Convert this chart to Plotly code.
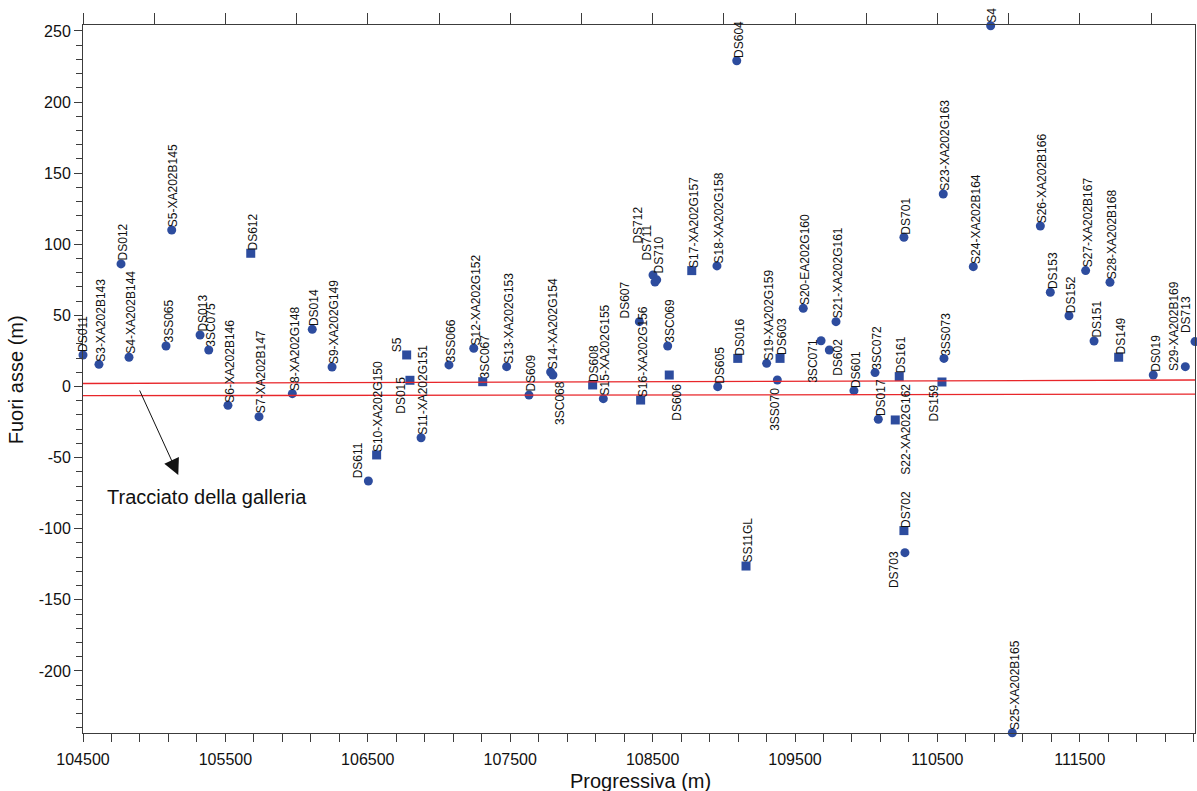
import plotly.graph_objects as go

# ---------------- data ----------------
names = ["DS011", "S3-XA202B143", "DS012", "S4-XA202B144", "3SS065", "S5-XA202B145",
         "DS013", "3SC075", "S6-XA202B146", "DS612", "S7-XA202B147", "S8-XA202G148",
         "DS014", "S9-XA202G149", "DS611", "S10-XA202G150", "S5", "DS015",
         "S11-XA202G151", "3SS066", "S12-XA202G152", "3SC067", "S13-XA202G153", "DS609",
         "S14-XA202G154", "3SC068", "DS608", "S15-XA202G155", "DS607", "S16-XA202G156",
         "DS712", "DS711", "DS710", "3SC069", "DS606", "S17-XA202G157",
         "S18-XA202G158", "DS605", "DS604", "DS016", "SS11GL", "S19-XA202G159",
         "3SS070", "DS603", "S20-EA202G160", "3SC071", "DS602", "S21-XA202G161",
         "DS601", "3SC072", "DS017", "S22-XA202G162", "DS161", "DS702",
         "DS703", "DS701", "S23-XA202G163", "3SS073", "DS159", "S24-XA202B164",
         "S4", "S25-XA202B165", "S26-XA202B166", "DS153", "DS152", "S27-XA202B167",
         "DS151", "S28-XA202B168", "DS149", "DS019", "S29-XA202B169", "DS713"]

progressiva = [104500, 104612, 104767, 104823, 105083, 105123,
               105322, 105383, 105518, 105678, 105736, 105970,
               106110, 106249, 106504, 106562, 106773, 106796,
               106874, 107070, 107244, 107307, 107475, 107632,
               107784, 107800, 108079, 108154, 108407, 108416,
               108503, 108529, 108517, 108606, 108617, 108775,
               108952, 108957, 109091, 109098, 109156, 109301,
               109376, 109395, 109558, 109683, 109741, 109788,
               109914, 110062, 110085, 110204, 110232, 110265,
               110272, 110265, 110541, 110546, 110532, 110752,
               110874, 111026, 111223, 111293, 111424, 111541,
               111600, 111712, 111773, 112016, 112241, 112309]

fuori_asse = [22.2, 15.6, 86.2, 20.6, 28.5, 110.1,
              36.2, 25.7, -13.2, 93.7, -21.2, -5.0,
              40.2, 13.7, -66.4, -48.1, 22.2, 4.4,
              -36.0, 15.2, 26.9, 3.4, 14.0, -6.0,
              10.2, 8.1, 1.1, -8.5, 45.6, -9.5,
              78.4, 75.0, 73.5, 28.5, 8.1, 81.5,
              84.8, -0.1, 229.1, 19.8, -126.2, 16.3,
              4.6, 19.8, 55.0, 32.2, 25.7, 45.6,
              -2.9, 9.8, -23.0, -23.5, 7.0, -101.3,
              -116.8, 105.0, 135.4, 19.8, 3.2, 84.3,
              253.7, -243.4, 112.9, 66.3, 49.8, 81.5,
              32.0, 73.3, 20.6, 8.1, 14.0, 31.6]

# tunnel alignment (two red edges), values at start and end of the section
galleria_x = [104500, 112309]
galleria_sup = [2.15, 4.6]
galleria_inf = [-6.45, -5.4]

x_range = [104500, 112309]
y_range = [-243.6, 254.2]

y_tickvals = [-200, -150, -100, -50, 0, 50, 100, 150, 200, 250]
y_ticktext = ["-200", "-150", "-100", "-50", "0", "50", "100", "150", "200", "250"]

# ---------------- styles ----------------
square_set = {"DS612", "S5", "DS015", "3SC067", "DS606", "S16-XA202G156", "S17-XA202G157",
              "DS016", "DS702", "S22-XA202G162", "DS149", "DS159", "DS161", "SS11GL",
              "DS608", "S10-XA202G150", "DS603"}
symbols = ["square" if n in square_set else "circle" for n in names]

# label placement: (side, dx px, dy px); side 'a' = label above point, 'b' = label below
label_style = {
    "DS011": ("a", 0, 2), "DS611": ("a", -10, 2), "S5": ("a", -9, 2),
    "DS015": ("b", -9, 5), "3SC068": ("b", 7, -5), "DS607": ("a", -14, 2),
    "DS712": ("a", -16, 30), "DS711": ("a", -10, 18), "DS710": ("a", 3, 7),
    "DS606": ("b", 7, -8), "3SS070": ("b", -3, -7), "3SC071": ("b", -8, 3),
    "DS602": ("b", 9, 12), "S22-XA202G162": ("b", 11, 37), "DS703": ("b", -11, 3),
    "DS159": ("b", -7, -1), "S29-XA202B169": ("a", -12, -5), "DS713": ("a", -9, 7),
}

blue = "#2D4C9E"
red = "#E8262A"
axis_col = "#3C3C3C"
font_fam = "Arial, Liberation Sans, sans-serif"

fig = go.Figure()

for yy in (galleria_sup, galleria_inf):
    fig.add_trace(go.Scatter(x=galleria_x, y=yy, mode="lines",
                             line=dict(color=red, width=1.3),
                             xaxis="x2", yaxis="y", hoverinfo="skip", showlegend=False))

fig.add_trace(go.Scatter(x=progressiva, y=fuori_asse, mode="markers",
                         marker=dict(color=blue, size=9, symbol=symbols,
                                     line=dict(width=0)),
                         text=names, cliponaxis=False, showlegend=False))

annotations = []
for n, xv, yv in zip(names, progressiva, fuori_asse):
    side, dx, dy = label_style.get(n, ("a", 2, 2))
    annotations.append(dict(
        x=xv, y=yv, xref="x", yref="y", text=n, showarrow=False, textangle=-90,
        xanchor="center", yanchor="bottom" if side == "a" else "top",
        xshift=dx, yshift=dy, borderpad=0,
        font=dict(family=font_fam, size=12, color="#111111")))

annotations.append(dict(x=105169, y=-62.2, ax=104893, ay=-1.7, xref="x", yref="y",
                        axref="x", ayref="y", text="", showarrow=True,
                        arrowhead=2, arrowsize=3.2, arrowwidth=1, arrowcolor="#111111"))
annotations.append(dict(x=105374, y=-77.7, xref="x", yref="y",
                        xanchor="center", yanchor="middle",
                        text="Tracciato della galleria", showarrow=False,
                        font=dict(family=font_fam, size=20, color="#111111")))
annotations.append(dict(x=-0.060, y=0.4986, xref="paper", yref="paper",
                        xanchor="center", yanchor="middle",
                        text="Fuori asse (m)", textangle=-90, showarrow=False,
                        font=dict(family=font_fam, size=20, color="#111111")))
annotations.append(dict(x=0.501, y=-0.0685, xref="paper", yref="paper",
                        xanchor="center", yanchor="middle",
                        text="Progressiva (m)", showarrow=False,
                        font=dict(family=font_fam, size=20, color="#111111")))

fig.update_layout(
    width=1197, height=791,
    margin=dict(l=83, r=2, t=25, b=58),
    paper_bgcolor="white", plot_bgcolor="white",
    font=dict(family=font_fam, size=16, color="#111111"),
    annotations=annotations,
    xaxis=dict(range=x_range, showgrid=False, zeroline=False,
               showline=True, linecolor=axis_col, linewidth=1,
               tick0=104500, dtick=1000, ticks="outside", ticklen=8,
               tickcolor=axis_col, tickformat="d", ticklabelstandoff=4,
               minor=dict(dtick=200, tick0=104500, ticks="outside", ticklen=8,
                          tickcolor=axis_col),
               tickfont=dict(size=16)),
    xaxis2=dict(range=x_range, overlaying="x", side="top", showgrid=False,
                zeroline=False, showline=True, linecolor=axis_col, linewidth=1,
                tick0=104500, dtick=500, ticks="outside", ticklen=11,
                tickcolor=axis_col, showticklabels=False),
    yaxis=dict(range=y_range, showgrid=False, zeroline=False,
               showline=True, mirror=True, linecolor=axis_col, linewidth=1,
               tickvals=y_tickvals, ticktext=y_ticktext,
               ticks="outside", ticklen=8, tickcolor=axis_col,
               minor=dict(dtick=10, tick0=0, ticks="outside", ticklen=6, tickcolor=axis_col),
               tickfont=dict(size=16)),
)

fig.write_html("out.html")
